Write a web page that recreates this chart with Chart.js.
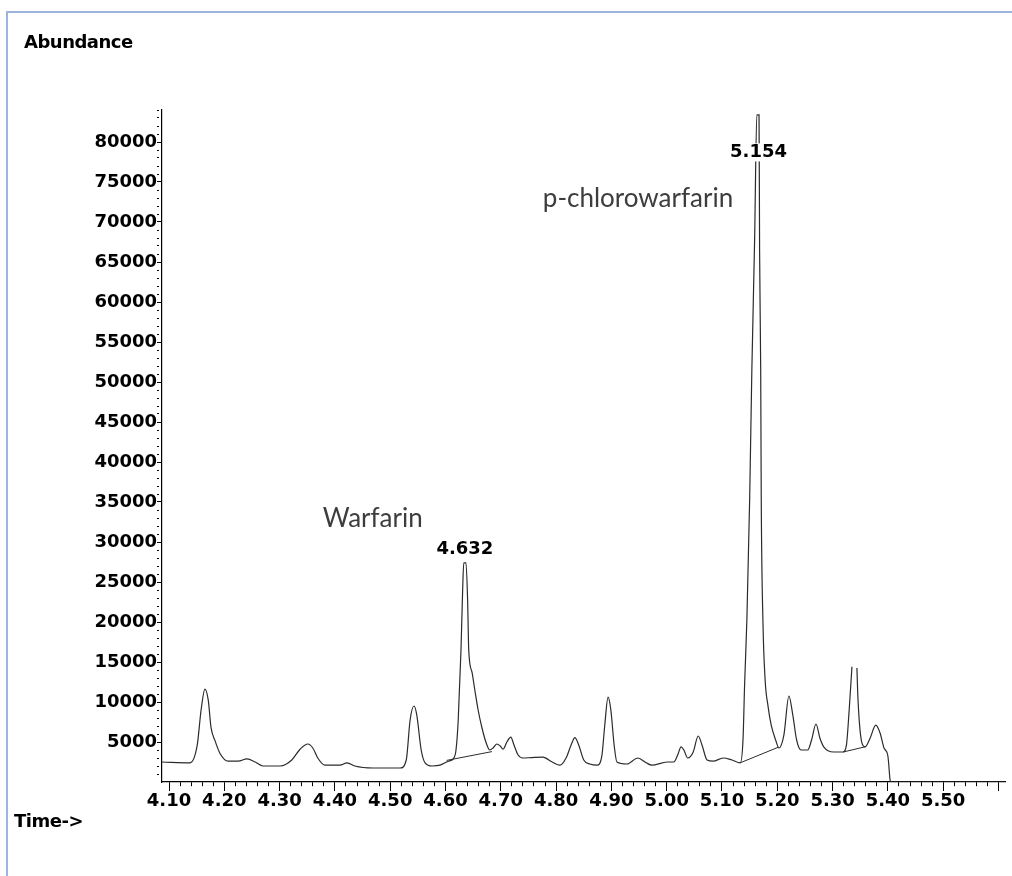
<!DOCTYPE html>
<html>
<head>
<meta charset="utf-8">
<title>Chromatogram - Warfarin / p-chlorowarfarin</title>
<script src="https://cdn.jsdelivr.net/npm/chart.js@4.4.1/dist/chart.umd.min.js"></script>
<style>
  html, body { margin: 0; padding: 0; background: #fff; }
  #wrap { position: relative; width: 1012px; height: 876px; overflow: hidden; }
  #frame {
    position: absolute; left: 6px; top: 11px; right: -10px; bottom: -10px;
    border-top: 2px solid #9db4df; border-left: 2px solid #9db4df;
  }
  canvas { position: absolute; left: 0; top: 0; }
  .axis-title {
    position: absolute; font-family: 'DejaVu Sans', sans-serif; font-weight: bold;
    font-size: 18px; color: #000; letter-spacing: -0.5px; white-space: nowrap;
  }
</style>
</head>
<body>
<div id="wrap">
  <div id="frame"></div>
  <canvas id="chart" width="1012" height="876"></canvas>
  <div class="axis-title" style="left:24px; top:31px;">Abundance</div>
  <div class="axis-title" style="left:14px; top:810px;">Time-&gt;</div>
</div>
<script>
  'use strict';

  // ── 資料：保留時間（min）與訊號強度 ─────────────────────────
  const times = [
    4.087, 4.138, 4.151, 4.158, 4.165, 4.171, 4.176, 4.183, 4.192, 4.207,
    4.225, 4.241, 4.256, 4.270, 4.301, 4.322, 4.337, 4.351, 4.360, 4.369,
    4.382, 4.409, 4.422, 4.436, 4.469, 4.518, 4.529, 4.536, 4.543, 4.548,
    4.556, 4.563, 4.576, 4.590, 4.605, 4.614, 4.619, 4.623, 4.628, 4.631,
    4.633, 4.637, 4.640, 4.642, 4.648, 4.653, 4.659, 4.666, 4.673, 4.680,
    4.686, 4.693, 4.699, 4.704, 4.711, 4.718, 4.724, 4.731, 4.740, 4.756,
    4.776, 4.793, 4.807, 4.818, 4.827, 4.834, 4.841, 4.850, 4.861, 4.874,
    4.883, 4.888, 4.894, 4.899, 4.905, 4.910, 4.928, 4.948, 4.963, 4.973,
    5.001, 5.013, 5.020, 5.026, 5.031, 5.038, 5.048, 5.057, 5.064, 5.073,
    5.084, 5.102, 5.118, 5.133, 5.138, 5.141, 5.145, 5.150, 5.154, 5.159,
    5.163, 5.167, 5.168, 5.170, 5.171, 5.174, 5.178, 5.183, 5.189, 5.197,
    5.203, 5.212, 5.221, 5.228, 5.235, 5.243, 5.255, 5.262, 5.270, 5.277,
    5.284, 5.302, 5.319, 5.325, 5.330, 5.335, 5.340, 5.344, 5.346, 5.353,
    5.359, 5.368, 5.378, 5.386, 5.393, 5.400, 5.404, 5.405, 5.612
  ];
  const abundance = [
    2500, 2400, 4600, 9000, 11600, 10200, 6800, 5200, 3600, 2600,
    2600, 2900, 2500, 2000, 2000, 2750, 4100, 4750, 4250, 3000,
    2100, 2100, 2400, 2000, 1750, 1750, 2750, 7750, 9500, 8400,
    4000, 2400, 2000, 2100, 2600, 2900, 4000, 7750, 16500, 24000,
    27400, 27400, 22700, 16500, 13700, 11500, 9000, 6750, 5000, 4000,
    4250, 4750, 4500, 4100, 5000, 5600, 4600, 3400, 3000, 3050,
    3100, 2500, 2100, 3000, 4600, 5550, 4600, 2750, 2250, 2100,
    3400, 7100, 10600, 9000, 4600, 2500, 2250, 3000, 2400, 2100,
    2500, 2500, 3400, 4400, 4000, 3000, 3750, 5750, 4600, 2750,
    2600, 3000, 2750, 2400, 5250, 12400, 20250, 35250, 51500, 67750,
    83400, 83400, 66500, 51500, 35250, 20250, 12750, 9600, 7100, 5250,
    4250, 5900, 10750, 8400, 5250, 4000, 4000, 5250, 7250, 5500,
    4400, 3750, 3750, 4600, 9000, 14400, null, 14250, 10250, 4900,
    4400, 5500, 7100, 6100, 4250, 3250, 250, 0, 0
  ];

  // 積分基線（起點、終點）
  const baseline1 = [[4.602, 2700], [4.684, 3800]];
  const baseline2 = [[5.133, 2400], [5.202, 4350]];
  const baseline3 = [[5.319, 3750], [5.359, 4400]];

  // 峰值標註
  const peakLabels = [
    { text: '4.632', t: 4.635, v: 29100 },
    { text: '5.154', t: 5.166, v: 78700 },
  ];
  const compoundLabels = [
    { text: 'Warfarin', t: 4.378, v: 31900 },
    { text: 'p-chlorowarfarin', t: 4.776, v: 71900 },
  ];

  // 軸範圍與刻度（每 0.02 min 一小刻度，每 0.1 min 一主刻度，標籤到 5.50 為止）
  const X_MIN = 4.0873, X_MAX = 5.6118;
  const Y_MIN = 0, Y_MAX = 84000;
  const X_LAST_LABEL = 5.5;
  const xTickValues = [];
  for (let k = 205; k <= 280; k++) xTickValues.push(k / 50);
  const yTickValues = [];
  for (let k = 1; k <= 84; k++) yTickValues.push(k * 1000);

  const TRACE = '#2b2b2b';
  const TICK_FONT = { family: "'DejaVu Sans', sans-serif", size: 18, weight: 'bold' };

  const isMajorX = v => Math.round(v * 100) % 10 === 0;
  const isMajorY = v => Math.round(v) % 5000 === 0;

  const tracePoints = times.map((t, i) => ({ x: t, y: abundance[i] }));
  const seg = arr => arr.map(p => ({ x: p[0], y: p[1] }));

  function lineDs(data, width, smooth) {
    return {
      data,
      borderColor: TRACE,
      borderWidth: width,
      pointRadius: 0,
      fill: false,
      tension: smooth ? 0.4 : 0,
      cubicInterpolationMode: smooth ? 'monotone' : 'default',
      spanGaps: false,
    };
  }

  // ── 文字標註 plugin ──────────────────────────────────────
  const annotatePlugin = {
    id: 'annotate',
    afterDatasetsDraw(chart) {
      const { ctx, scales: { x, y } } = chart;
      ctx.save();
      ctx.font = "bold 18px 'DejaVu Sans', sans-serif";
      ctx.textAlign = 'center';
      ctx.textBaseline = 'middle';
      peakLabels.forEach(l => {
        const px = x.getPixelForValue(l.t);
        const py = y.getPixelForValue(l.v);
        const w = ctx.measureText(l.text).width;
        ctx.fillStyle = '#fff';
        ctx.fillRect(px - w / 2 - 1, py - 9, w + 2, 18);
        ctx.fillStyle = '#000';
        ctx.fillText(l.text, px, py);
      });
      ctx.font = "26px Lato, 'Open Sans', sans-serif";
      ctx.textAlign = 'left';
      ctx.textBaseline = 'alphabetic';
      ctx.fillStyle = '#3d3d3d';
      compoundLabels.forEach(l => {
        ctx.fillText(l.text, x.getPixelForValue(l.t), y.getPixelForValue(l.v));
      });
      ctx.restore();
    },
  };

  new Chart(document.getElementById('chart'), {
    type: 'line',
    data: {
      datasets: [
        lineDs(tracePoints, 1.2, true),
        lineDs(seg(baseline1), 1, false),
        lineDs(seg(baseline2), 1, false),
        lineDs(seg(baseline3), 1, false),
      ],
    },
    options: {
      responsive: false,
      animation: false,
      events: [],
      layout: { padding: { top: 110, right: 7, left: 0, bottom: 0 } },
      plugins: { legend: { display: false }, tooltip: { enabled: false } },
      scales: {
        x: {
          type: 'linear',
          min: X_MIN,
          max: X_MAX,
          bounds: 'data',
          afterBuildTicks(s) { s.ticks = xTickValues.map(v => ({ value: v })); },
          afterFit(s) { s.height = 94; },
          border: { display: true, color: '#000', width: 1.2 },
          grid: {
            drawOnChartArea: false,
            tickLength: 9,
            tickColor: '#000',
            tickWidth: 1,
            tickBorderDash: c => (c.tick && isMajorX(c.tick.value) ? [] : [4, 30]),
          },
          ticks: {
            autoSkip: false,
            maxRotation: 0,
            minRotation: 0,
            padding: 0,
            color: '#000',
            font: TICK_FONT,
            callback: v => (isMajorX(v) && v < X_LAST_LABEL + 0.01 ? v.toFixed(2) : ''),
          },
        },
        y: {
          min: Y_MIN,
          max: Y_MAX,
          bounds: 'data',
          afterBuildTicks(s) { s.ticks = yTickValues.map(v => ({ value: v })); },
          afterFit(s) { s.width = 162; },
          border: { display: true, color: '#000', width: 1.2 },
          grid: {
            drawOnChartArea: false,
            tickLength: 5,
            tickColor: '#000',
            tickWidth: 1,
            tickBorderDash: c => (c.tick && isMajorY(c.tick.value) ? [] : [2, 30]),
          },
          ticks: {
            autoSkip: false,
            padding: 0,
            color: '#000',
            font: TICK_FONT,
            callback: v => (isMajorY(v) ? String(v) : ''),
          },
        },
      },
    },
    plugins: [annotatePlugin],
  });
</script>
</body>
</html>
